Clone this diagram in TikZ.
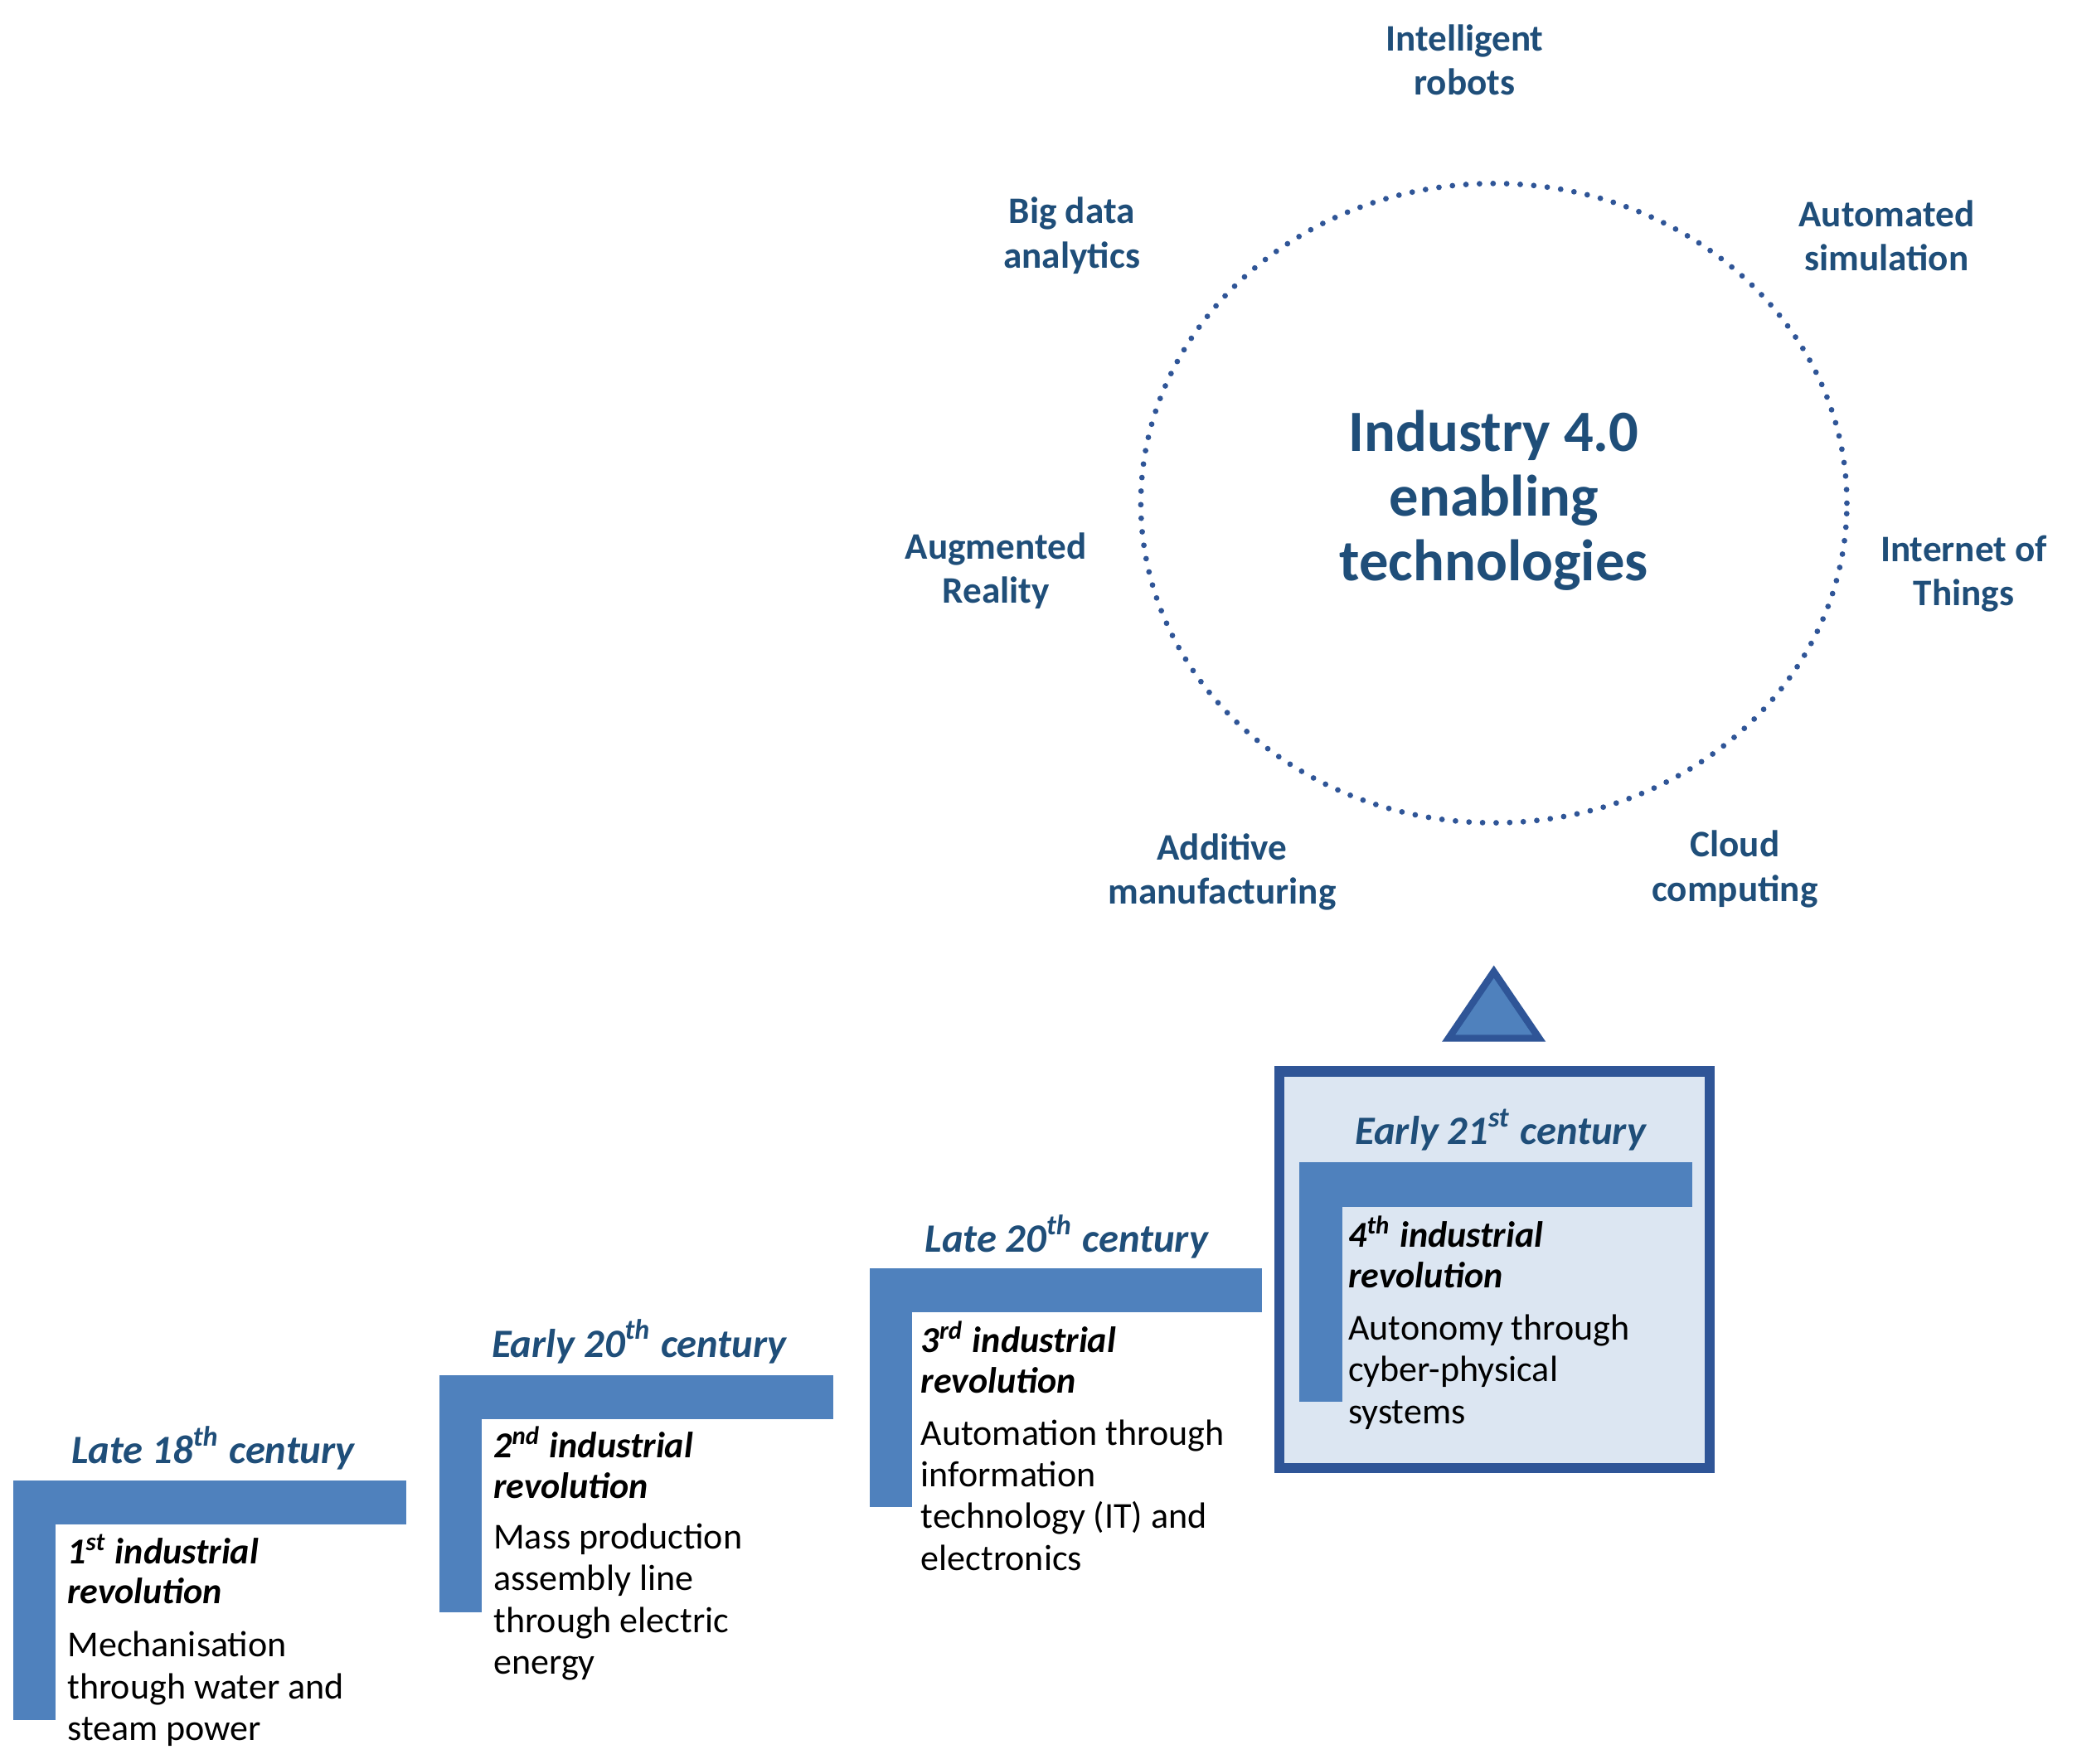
\documentclass[tikz,border=0pt]{standalone}
\usepackage{fontspec}
\setmainfont{Carlito}
\usetikzlibrary{shapes.geometric}
\definecolor{lab}{HTML}{1F4E79}
\definecolor{bar}{HTML}{4F81BD}
\definecolor{bord}{HTML}{2F5597}
\definecolor{lite}{HTML}{DCE6F2}
\begin{document}
\begin{tikzpicture}[x=0.01cm,y=-0.01cm,
  lbl/.style={text=lab,font=\fontsize{8}{9.5}\selectfont\bfseries,align=center,inner sep=0},
  ttl/.style={text=lab,font=\fontsize{8.6}{10}\selectfont\bfseries\itshape,inner sep=0},
  hd/.style={anchor=north west,align=left,inner sep=0,font=\fontsize{7.8}{8.6}\selectfont\bfseries\itshape},
  ds/.style={anchor=north west,align=left,inner sep=0,font=\fontsize{7.8}{8.9}\selectfont},
  barf/.style={fill=bar,draw=none}]
\useasboundingbox (0,0) rectangle (1560,1325);
% circle
\node[draw=bord,line width=1.2pt,dash pattern=on 0pt off 2.9pt,line cap=round,ellipse,minimum width=530\pgflinewidth*0+5.3cm,minimum height=4.8cm] (circ) at (1122,378) {};
\node[text=lab,font=\fontsize{12.5}{13.8}\selectfont\bfseries,align=center] (core) at (1122,376) {Industry 4.0\\enabling\\technologies};
\node[lbl] (l1) at (1100,45) {Intelligent\\robots};
\node[lbl] (l2) at (805,177) {Big data\\analytics};
\node[lbl] (l3) at (1417,177) {Automated\\simulation};
\node[lbl] (l4) at (748,429) {Augmented\\Reality};
\node[lbl] (l5) at (1475,431) {Internet of\\Things};
\node[lbl] (l6) at (918,655) {Additive\\manufacturing};
\node[lbl] (l7) at (1303,653) {Cloud\\computing};
% triangle
\draw[fill=bar,draw=bord,line width=1.5pt,line join=miter] (1122,730) -- (1156,780) -- (1088,780) -- cycle;
\coordinate (tri) at (1122,760);
% box
\draw[fill=lite,draw=bord,line width=2.2pt] (961,805) rectangle (1284,1103);
\coordinate (box) at (1122,954);
% step 1
\fill[barf] (10,1112) rectangle (305,1145);
\fill[barf] (10,1112) rectangle (42,1292);
\node[ttl] (t1) at (160,1088) {Late 18\textsuperscript{th} century};
\node[hd] (h1) at (50,1152) {1\textsuperscript{st} industrial\\revolution};
\node[ds] (d1) at (50,1225) {Mechanisation\\through water and\\steam power};
% step 2
\fill[barf] (330,1033) rectangle (626,1066);
\fill[barf] (330,1033) rectangle (362,1211);
\node[ttl] (t2) at (480,1008) {Early 20\textsuperscript{th} century};
\node[hd] (h2) at (370,1071) {2\textsuperscript{nd} industrial\\revolution};
\node[ds] (d2) at (370,1144) {Mass production\\assembly line\\through electric\\energy};
% step 3
\fill[barf] (653,953) rectangle (948,986);
\fill[barf] (653,953) rectangle (685,1132);
\node[ttl] (t3) at (801,929) {Late 20\textsuperscript{th} century};
\node[hd] (h3) at (691,992) {3\textsuperscript{rd} industrial\\revolution};
\node[ds] (d3) at (691,1066) {Automation through\\information\\technology (IT) and\\electronics};
% step 4
\fill[barf] (976,873) rectangle (1271,907);
\fill[barf] (976,873) rectangle (1008,1053);
\node[ttl] (t4) at (1127,849) {Early 21\textsuperscript{st} century};
\node[hd] (h4) at (1012,913) {4\textsuperscript{th} industrial\\revolution};
\node[ds] (d4) at (1012,987) {Autonomy through\\cyber-physical\\systems};
\end{tikzpicture}
\end{document}
